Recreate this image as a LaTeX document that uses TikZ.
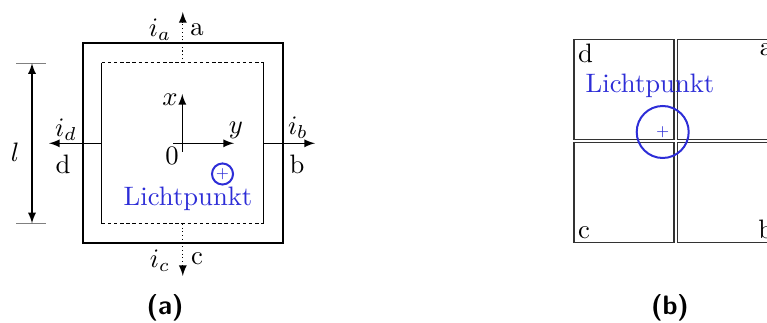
\documentclass[tikz,border=0pt]{standalone}
\definecolor{lichtblau}{RGB}{45,45,215}
\begin{document}
\begin{tikzpicture}[x=0.375pt,y=-0.375pt,>=latex]
  \useasboundingbox (0,0) rectangle (767,323);

  % (a) outer frame and inner (sensor) frame
  \node[draw,line width=0.75pt,minimum size=75pt,inner sep=0pt] (outer) at (183,143.5) {};
  \node[minimum width=60.4pt,minimum height=60pt,inner sep=0pt] (inner) at (182.8,143.3) {};
  \draw[dash pattern=on 1.3pt off 1pt] (inner.north west) -- (inner.north east);   % top edge
  \draw[dash pattern=on 1.3pt off 1pt] (inner.south west) -- (inner.south east);   % bottom edge
  \draw (inner.north west) -- (inner.south west);                   % left edge
  \draw (inner.north east) -- (inner.south east);                   % right edge

  % electrode currents
  \coordinate (ta) at (182.8,12);
  \coordinate (tc) at (182.8,276);
  \coordinate (td) at (49,143.3);
  \coordinate (tb) at (315,143.3);
  \draw[->,densely dotted] (inner.north) -- (ta);
  \draw[->,densely dotted] (inner.south) -- (tc);
  \draw[->] (inner.west) -- (td);
  \draw[->] (inner.east) -- (tb);
  \node (ia) at (160,30) {$i_a$};
  \node (ea) at (197,30) {a};
  \node (ic) at (160,261) {$i_c$};
  \node (ec) at (197,259) {c};
  \node (id) at (66,130) {$i_d$};
  \node (ed) at (63,164) {d};
  \node (ib) at (298,128) {$i_b$};
  \node (eb) at (297,164) {b};

  % side length l
  \coordinate (lt) at (32,63.3);
  \coordinate (lb) at (32,223.3);
  \draw[gray] (16,63.3) -- (46,63.3);
  \draw[gray] (16,223.3) -- (46,223.3);
  \draw[<->] (lt) -- (lb);
  \node (l) at (15,152) {$l$};

  % coordinate axes
  \coordinate (ys) at (173,143.3);
  \coordinate (ye) at (234,143.3);
  \coordinate (xs) at (182.3,152);
  \coordinate (xe) at (182.3,94);
  \draw[->] (ys) -- (ye);
  \draw[->] (xs) -- (xe);
  \node (xl) at (170,100) {$x$};
  \node (yl) at (236,130) {$y$};
  \node (nul) at (172,156) {0};

  % light spot (a)
  \node[circle,draw=lichtblau,line width=0.75pt,minimum size=7.9pt,inner sep=0pt,text=lichtblau] (spota) at (222.5,174) {\tiny +};
  \node[text=lichtblau] (lpa) at (188,199) {Lichtpunkt};

  % (b) four quadrant cells
  \node[draw=black!80,minimum size=37.5pt,inner sep=0pt] (qd) at (624,89.7) {};
  \node[draw=black!80,minimum size=37.5pt,inner sep=0pt] (qa) at (727.3,89.7) {};
  \node[draw=black!80,minimum size=37.5pt,inner sep=0pt] (qc) at (624,192.7) {};
  \node[draw=black!80,minimum size=37.5pt,inner sep=0pt] (qb) at (727.3,192.7) {};
  \node[anchor=north west,inner sep=1.5pt] (ld) at (qd.north west) {d};
  \node[anchor=north east,inner sep=1.5pt] (la) at (qa.north east) {a};
  \node[anchor=south west,inner sep=1.5pt] (lc) at (qc.south west) {c};
  \node[anchor=south east,inner sep=1.5pt] (lb2) at (qb.south east) {b};

  % light spot (b)
  \node[circle,draw=lichtblau,line width=0.75pt,minimum size=19.5pt,inner sep=0pt,text=lichtblau] (spotb) at (662.7,132) {\tiny +};
  \node[text=lichtblau] (lpb) at (650,86) {Lichtpunkt};

  % captions
  \node (capa) at (165,308) {\sffamily\bfseries (a)};
  \node (capb) at (670,308) {\sffamily\bfseries (b)};
\end{tikzpicture}
\end{document}
